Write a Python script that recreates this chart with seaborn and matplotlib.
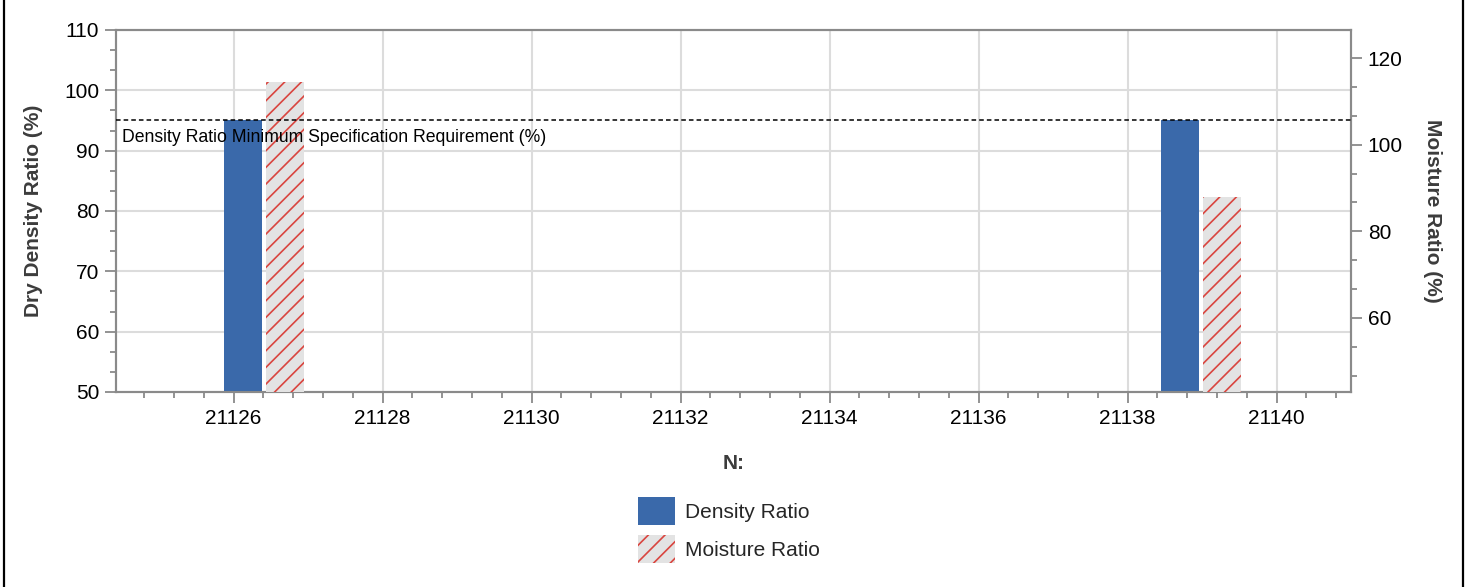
"""
Density / moisture ratio bar chart with a dashed minimum-spec line.
"""
import numpy as np
import matplotlib
matplotlib.use("Agg")
import matplotlib.pyplot as plt
import matplotlib.transforms as mtransforms
from matplotlib.lines import Line2D
from matplotlib.patches import Patch
from matplotlib.ticker import MultipleLocator, AutoMinorLocator, FuncFormatter
import seaborn as sns

# ---- data ----
n_values = [21126.41, 21138.99]          # N: (group centres)
density_ratio = [95.0, 95.0]             # Dry Density Ratio (%)
moisture_ratio = [114.5, 87.9]           # Moisture Ratio (%)
density_min_spec = 95.0                  # minimum specification requirement (%)
series_names = ["Density Ratio", "Moisture Ratio"]
spec_label = "Density Ratio Minimum Specification Requirement (%)"

# ---- style ----
sns.set_theme(style="white")
plt.rcParams["font.family"] = ["Liberation Sans", "DejaVu Sans"]
plt.rcParams["hatch.linewidth"] = 1.2

BLUE = "#3a69aa"
HATCH_RED = "#d9453f"
HATCH_FILL = "#e3e3e3"
AXIS_GREY = "#8a8a8a"
GRID_GREY = "#dcdcdc"
LABEL_GREY = "#3c3c3c"

fig = plt.figure(figsize=(14.72, 5.87), dpi=100)
ax = fig.add_axes([0.0788, 0.3322, 0.8390, 0.6167])
ax2 = ax.twinx()

bar_w = 0.51
off = 0.28
x = np.array(n_values)

ax.bar(x - off, density_ratio, width=bar_w, color=BLUE, linewidth=0, zorder=3)
ax2.bar(x + off, moisture_ratio, width=bar_w, color=HATCH_FILL,
        edgecolor=HATCH_RED, hatch="//", linewidth=0, zorder=3)

ax.set_xlim(21124.42, 21141.0)
ax.set_ylim(50, 110)
ax2.set_ylim(42.9, 126.5)

ax.xaxis.set_major_locator(MultipleLocator(2))
ax.xaxis.set_minor_locator(AutoMinorLocator(5))
ax.yaxis.set_major_locator(MultipleLocator(10))
ax.yaxis.set_minor_locator(AutoMinorLocator(3))
ax2.yaxis.set_major_locator(MultipleLocator(20))
ax2.yaxis.set_minor_locator(AutoMinorLocator(3))
ax.xaxis.set_major_formatter(FuncFormatter(lambda v, p: f"{v:.0f}"))

ax.grid(True, which="major", color=GRID_GREY, linewidth=1.5, zorder=0)
ax.set_axisbelow(True)

for a in (ax, ax2):
    for s in a.spines.values():
        s.set_color(AXIS_GREY)
        s.set_linewidth(1.5)
    a.tick_params(which="major", direction="out", length=8, width=1.3,
                  color=AXIS_GREY, labelsize=15, labelcolor="black", pad=4)
    a.tick_params(which="minor", direction="out", length=4.5, width=1.3,
                  color=AXIS_GREY)
ax.tick_params(axis="x", which="both", bottom=True)
ax.tick_params(axis="y", which="both", left=True)
ax2.tick_params(axis="y", which="both", right=True)

# dashed spec line and label (drawn on top of both bar sets)
trans = mtransforms.blended_transform_factory(ax2.transAxes, ax.transData)
ax2.plot([0, 1], [density_min_spec, density_min_spec], transform=trans,
         color="black", linestyle=(0, (3, 2)), linewidth=1.1, zorder=5)
ax2.annotate(spec_label, xy=(0, density_min_spec), xycoords=trans,
             xytext=(4, -6), textcoords="offset points",
             ha="left", va="top", fontsize=12.7, color="black", zorder=6)

ax.set_xlabel("N:", fontsize=15, fontweight="bold", color=LABEL_GREY, labelpad=19)
ax.set_ylabel("Dry Density Ratio (%)", fontsize=15, fontweight="bold",
              color=LABEL_GREY, labelpad=15)
ax2.set_ylabel("Moisture Ratio (%)", fontsize=15, fontweight="bold",
               color=LABEL_GREY, rotation=270, labelpad=28)

handles = [Patch(facecolor=BLUE, edgecolor=BLUE, linewidth=0),
           Patch(facecolor=HATCH_FILL, edgecolor=HATCH_RED, hatch="//", linewidth=0)]
fig.legend(handles, series_names, loc="center", bbox_to_anchor=(0.495, 0.097),
           frameon=False, fontsize=15, handlelength=1.8, handleheight=1.7,
           labelspacing=0.45, handletextpad=0.45)

# page border lines
fig.add_artist(Line2D([4.3 / 1472] * 2, [0, 1], color="black", linewidth=1.6))
fig.add_artist(Line2D([1462.7 / 1472] * 2, [0, 1], color="black", linewidth=1.6))

fig.savefig("out.png", dpi=100)
plt.close(fig)
